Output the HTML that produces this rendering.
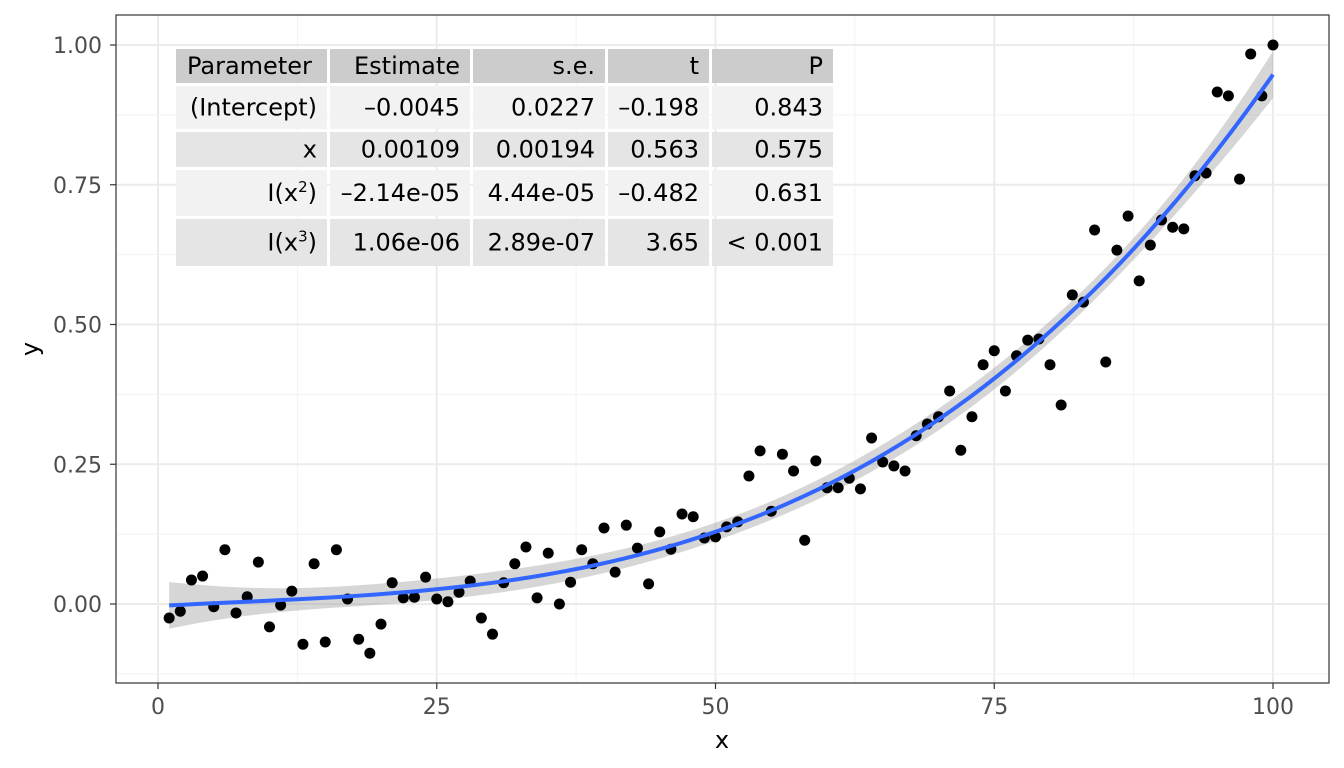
<!DOCTYPE html>
<html><head><meta charset="utf-8"><style>
html,body{margin:0;padding:0;background:#fff;}
svg{display:block;font-family:"DejaVu Sans","Liberation Sans",sans-serif;}
</style></head><body>
<svg id="chart" width="1344" height="768"></svg>
<script>
const xs=[1,2,3,4,5,6,7,8,9,10,11,12,13,14,15,16,17,18,19,20,21,22,23,24,25,26,27,28,29,30,31,32,33,34,35,36,37,38,39,40,41,42,43,44,45,46,47,48,49,50,51,52,53,54,55,56,57,58,59,60,61,62,63,64,65,66,67,68,69,70,71,72,73,74,75,76,77,78,79,80,81,82,83,84,85,86,87,88,89,90,91,92,93,94,95,96,97,98,99,100];
const ys=[-0.025,-0.013,0.043,0.05,-0.005,0.097,-0.016,0.013,0.075,-0.041,-0.002,0.023,-0.072,0.072,-0.068,0.097,0.009,-0.063,-0.088,-0.036,0.038,0.011,0.012,0.048,0.009,0.004,0.021,0.041,-0.025,-0.054,0.038,0.072,0.102,0.011,0.091,0.0,0.039,0.097,0.072,0.136,0.057,0.141,0.1,0.036,0.129,0.098,0.161,0.156,0.118,0.12,0.138,0.147,0.229,0.274,0.166,0.268,0.238,0.114,0.256,0.208,0.208,0.225,0.206,0.297,0.254,0.247,0.238,0.301,0.322,0.335,0.381,0.275,0.335,0.428,0.453,0.381,0.444,0.472,0.474,0.428,0.356,0.553,0.54,0.669,0.433,0.633,0.694,0.578,0.642,0.687,0.674,0.671,0.766,0.771,0.916,0.909,0.76,0.984,0.909,1.0];
const xTicks=[0,25,50,75,100];
const yTicks=[0,0.25,0.5,0.75,1.0];
const yTickLabels=["0.00","0.25","0.50","0.75","1.00"];
const tableHeader=["Parameter","Estimate","s.e.","t","P"];
const tableRows=[["(Intercept)","\u20130.0045","0.0227","\u20130.198","0.843"],["x","0.00109","0.00194","0.563","0.575"],["I(x<tspan dy='-9' font-size='15'>2</tspan><tspan dy='9'>)</tspan>","\u20132.14e-05","4.44e-05","\u20130.482","0.631"],["I(x<tspan dy='-9' font-size='15'>3</tspan><tspan dy='9'>)</tspan>","1.06e-06","2.89e-07","3.65","< 0.001"]];

const NS="http://www.w3.org/2000/svg";
const svg=document.getElementById('chart');
const L=116,T=15,R=1329,B=683;
const sx=v=>158+(v)*(1273-158)/100;
const sy=v=>604-v*(604-45);
function mk(tag,a,p){const e=document.createElementNS(NS,tag);for(const k in a)e.setAttribute(k,a[k]);(p||svg).appendChild(e);return e;}

const grid=mk('g',{});


for(let i=0;i<xTicks.length;i++){
  mk('line',{x1:sx(xTicks[i]),x2:sx(xTicks[i]),y1:T,y2:B,stroke:'#ebebeb','stroke-width':2},grid);
  if(i<xTicks.length-1){const m=(xTicks[i]+xTicks[i+1])/2;mk('line',{x1:sx(m),x2:sx(m),y1:T,y2:B,stroke:'#f2f2f2','stroke-width':1},grid);}
}
for(let i=0;i<yTicks.length;i++){
  mk('line',{y1:sy(yTicks[i]),y2:sy(yTicks[i]),x1:L,x2:R,stroke:'#ebebeb','stroke-width':2},grid);
  if(i<yTicks.length-1){const m=(yTicks[i]+yTicks[i+1])/2;mk('line',{y1:sy(m),y2:sy(m),x1:L,x2:R,stroke:'#f2f2f2','stroke-width':1},grid);}
}
mk('line',{y1:sy(-0.125),y2:sy(-0.125),x1:L,x2:R,stroke:'#f2f2f2','stroke-width':1},grid);

const n=xs.length;
const X=xs.map(x=>[1,x,x*x,x*x*x]);
const XtX=[[0,0,0,0],[0,0,0,0],[0,0,0,0],[0,0,0,0]],Xty=[0,0,0,0];
for(let i=0;i<n;i++)for(let a=0;a<4;a++){Xty[a]+=X[i][a]*ys[i];for(let b=0;b<4;b++)XtX[a][b]+=X[i][a]*X[i][b];}
function inv(M){const m=M.length,A=M.map((r,i)=>r.concat(r.map((_,j)=>i===j?1:0)));
 for(let c=0;c<m;c++){let p=c;for(let r=c+1;r<m;r++)if(Math.abs(A[r][c])>Math.abs(A[p][c]))p=r;[A[c],A[p]]=[A[p],A[c]];
  const d=A[c][c];for(let j=0;j<2*m;j++)A[c][j]/=d;
  for(let r=0;r<m;r++)if(r!==c){const f=A[r][c];for(let j=0;j<2*m;j++)A[r][j]-=f*A[c][j];}}
 return A.map(r=>r.slice(m));}
const Inv=inv(XtX);
const beta=Inv.map(r=>r.reduce((s,v,j)=>s+v*Xty[j],0));
let rss=0;for(let i=0;i<n;i++){const f=X[i].reduce((s,v,j)=>s+v*beta[j],0);rss+=(ys[i]-f)**2;}
const sig2=rss/(n-4);
const xmin=Math.min(...xs),xmax=Math.max(...xs);
let up=[],lo=[],mid=[];
for(let k=0;k<=80;k++){const x=xmin+(xmax-xmin)*k/80;const v=[1,x,x*x,x*x*x];
 const f=v.reduce((s,a,j)=>s+a*beta[j],0);let q=0;for(let a=0;a<4;a++)for(let b=0;b<4;b++)q+=v[a]*Inv[a][b]*v[b];
 const h=1.985*Math.sqrt(sig2*q);
 mid.push([sx(x),sy(f)]);up.push([sx(x),sy(f+h)]);lo.push([sx(x),sy(f-h)]);}
const band=mk('path',{d:'M'+up.map(p=>p.join(',')).join('L')+'L'+lo.reverse().map(p=>p.join(',')).join('L')+'Z',fill:'#999','fill-opacity':0.4});



const pts=mk('g',{});


for(let i=0;i<n;i++){const c=mk('circle',{cx:sx(xs[i]),cy:sy(ys[i]),r:5.5,fill:'#000'},pts);
 
 }

const line=mk('path',{d:'M'+mid.map(p=>p.join(',')).join('L'),fill:'none',stroke:'#3366FF','stroke-width':4});



const colX=[176,330,473,608,712,836];
const rowY=[49,86,132,170,219,269];
const tbl=mk('g',{'font-size':24,fill:'#000'});


const allRows=[tableHeader].concat(tableRows);
const fills=['#cccccc','#f2f2f2','#e5e5e5','#f2f2f2','#e5e5e5'];
for(let r=0;r<allRows.length;r++){
 for(let c=0;c<5;c++){
  mk('rect',{x:colX[c],y:rowY[r],width:colX[c+1]-colX[c]-3,height:rowY[r+1]-rowY[r]-3,fill:fills[r]},tbl);
  const left=(r===0&&c===0);
  const t=mk('text',{x:left?colX[c]+11:colX[c+1]-13,y:(rowY[r]+rowY[r+1]-3)/2+8,'text-anchor':left?'start':'end'},tbl);
  t.innerHTML=allRows[r][c];
  
  
 }
}

const border=mk('rect',{x:L,y:T,width:R-L,height:B-T,fill:'none',stroke:'#333','stroke-width':1.2});



const xa=mk('g',{'font-size':22,fill:'#4d4d4d'});


xTicks.forEach(v=>{mk('line',{x1:sx(v),x2:sx(v),y1:B,y2:B+6,stroke:'#333','stroke-width':1.2},xa);
 const t=mk('text',{x:sx(v),y:714,'text-anchor':'middle'},xa);t.textContent=v;
 
 });
const ya=mk('g',{'font-size':22,fill:'#4d4d4d'});


yTicks.forEach((v,i)=>{mk('line',{x1:L-6,x2:L,y1:sy(v),y2:sy(v),stroke:'#333','stroke-width':1.2},ya);
 const t=mk('text',{x:L-14,y:sy(v)+8,'text-anchor':'end'},ya);t.textContent=yTickLabels[i];
 
 });
const xt=mk('text',{x:722,y:748,'text-anchor':'middle','font-size':24,fill:'#000'});xt.textContent='x';


const yt=mk('text',{x:0,y:0,'text-anchor':'middle','font-size':24,fill:'#000',transform:'translate(38,349) rotate(-90)'});yt.textContent='y';


</script>
</body></html>
